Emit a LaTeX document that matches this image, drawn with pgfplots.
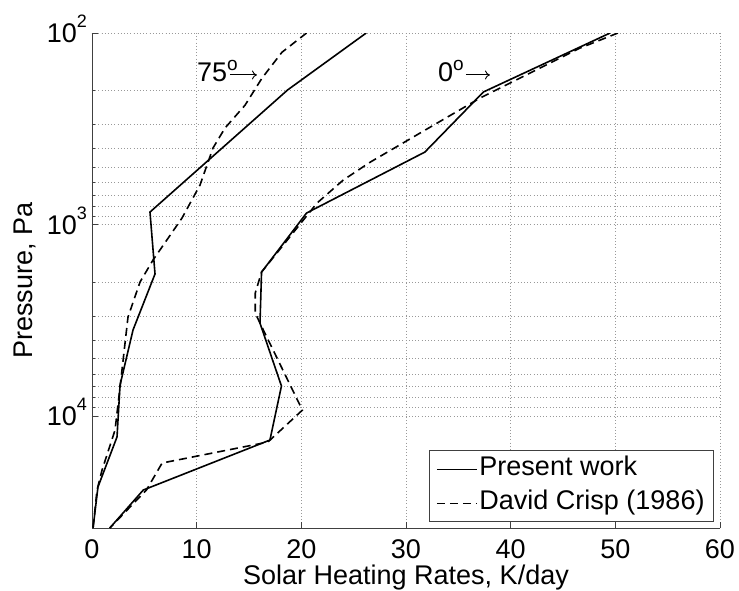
\documentclass[border=0pt]{standalone}
\usepackage{fontspec}
\setmainfont{Liberation Sans}
\usepackage{pgfplots}
\pgfplotsset{compat=1.18}
\usetikzlibrary{arrows.meta}

\newcommand{\bigfont}{\fontsize{27bp}{32bp}\selectfont}
\newcommand{\decade}[1]{10\raisebox{15bp}[0pt][0pt]{\fontsize{18bp}{18bp}\selectfont #1}}
\newcommand{\degsup}{\raisebox{11bp}{\fontsize{19bp}{19bp}\selectfont o}}

% heating rate (K/day) versus pressure (Pa)
\pgfplotstableread{
rate  p
49.5  100
37.4  203
31.8  418
20.5  869
16.2  1766
16.05 3260
18.1  6940
17.0  13280
4.9   24200
1.7   38200
}\equatorPresent

\pgfplotstableread{
rate  p
50.25 100
46.6  120
37.1  218
26.6  471
24.0  585
21.5  771
16.2  1766
15.6  2270
15.6  2890
16.05 3260
20.1  9270
16.8  13610
6.7   17500
5.2   24200
1.7   38200
}\equatorCrisp

\pgfplotstableread{
rate  p
26.2  100
18.7  198
5.54  859
6.02  1807
3.92  3540
2.68  6860
2.39  12790
0.57  23340
0.1   38200
}\highlatPresent

\pgfplotstableread{
rate  p
20.5  100
18.15 126
16.24 172
14.62 238
12.71 313
11.56 398
10.32 621
8.60  923
5.83  1528
4.59  1990
3.44  3030
2.68  7030
2.2   11780
0.96  19050
0.48  24200
0.1   38200
}\highlatCrisp

\begin{document}
\begin{tikzpicture}
\begin{axis}[
  scale only axis, width=628bp, height=495bp,
  xmin=0, xmax=60, ymin=100, ymax=38200,
  ymode=log, y dir=reverse,
  axis x line*=bottom, axis y line*=left,
  axis line style={draw=black!75, line width=0.8bp, -},
  xtick={0,10,...,60}, ytick={100,1000,10000},
  yticklabels={\decade{2},\decade{3},\decade{4}},
  /pgf/number format/assume math mode=true,
  tick align=inside,
  major tick length=6bp, minor tick length=3bp,
  tick style={black!75, line width=0.8bp},
  grid=both,
  grid style={black!40, line width=0.8bp, dash pattern=on 1bp off 2.2bp},
  font=\bigfont,
  xticklabel style={inner sep=0pt, anchor=north, yshift=-11bp},
  yticklabel style={inner sep=0pt, anchor=east, xshift=-5bp},
  xlabel={Solar Heating Rates, K/day},
  ylabel={Pressure, Pa},
  xlabel style={at={([yshift=-56bp]axis description cs:0.5,0)}, anchor=base},
  ylabel style={at={([xshift=-59bp]axis description cs:0,0.5)}, anchor=base},
  legend style={at={(axis description cs:0.9904,0.0121)}, anchor=south east,
    draw=black!75, line width=0.8bp, fill=white, font=\bigfont,
    inner xsep=7bp, inner ysep=4bp, row sep=5bp,
    nodes={inner sep=2bp, text height=19bp, text depth=6bp}},
  legend cell align=left,
  legend image code/.code={\draw[#1, line width=1.2bp] (0bp,0bp) -- (40bp,0bp);},
]
\addplot[black, line width=1.6bp] table[x=rate, y=p] {\equatorPresent};
\addlegendentry{Present work}
\addplot[black, line width=1.6bp, dash pattern=on 8bp off 5bp] table[x=rate, y=p] {\equatorCrisp};
\addlegendentry{David Crisp (1986)}
\addplot[black, line width=1.6bp, forget plot] table[x=rate, y=p] {\highlatPresent};
\addplot[black, line width=1.6bp, dash pattern=on 8bp off 5bp, forget plot] table[x=rate, y=p] {\highlatCrisp};

\node[anchor=base west, inner sep=0pt, font=\bigfont] at (axis cs:10.03,180) {75\degsup};
\draw[-{To[length=5bp,width=9bp]}, line width=0.9bp] (axis cs:13.17,165.5) -- (axis cs:15.76,165.5);
\node[anchor=base west, inner sep=0pt, font=\bigfont] at (axis cs:33.06,180) {0\degsup};
\draw[-{To[length=5bp,width=9bp]}, line width=0.9bp] (axis cs:35.73,165.5) -- (axis cs:38.02,165.5);
\end{axis}
\pgfresetboundingbox
\path[use as bounding box] (-92bp,-63bp) rectangle (647bp,528bp);
\end{tikzpicture}
\end{document}
